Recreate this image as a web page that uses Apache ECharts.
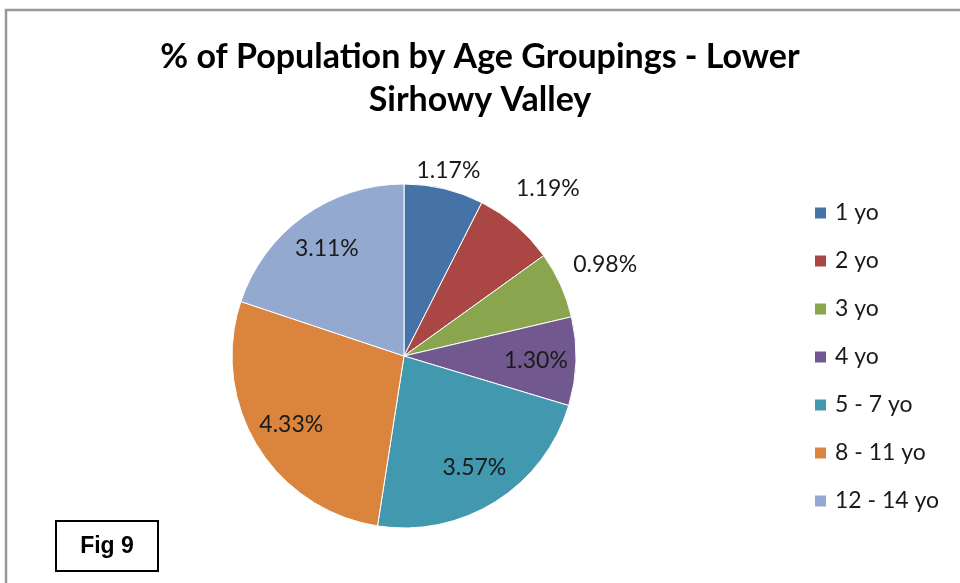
<!DOCTYPE html>
<html>
<head>
<meta charset="utf-8">
<script src="https://cdn.jsdelivr.net/npm/echarts@6/dist/echarts.min.js"></script>
<style>
html,body{margin:0;padding:0;background:#fff;}
#chart{width:960px;height:583px;}
</style>
</head>
<body>
<div id="chart"></div>
<script>
const categories = ['1 yo', '2 yo', '3 yo', '4 yo', '5 - 7 yo', '8 - 11 yo', '12 - 14 yo'];
const values = [1.17, 1.19, 0.98, 1.30, 3.57, 4.33, 3.11];
const colors = ['#4572A7', '#AA4643', '#89A54E', '#71588F', '#4198AF', '#DB843D', '#93A9CF'];

// which labels sit inside the pie / just outside (near top) / further outside
const insideIdx = [3, 4, 5, 6];
const outerNearIdx = [0];
const outerFarIdx = [1, 2];

const CX = 404, CY = 356, R = 172;
const labelFont = { fontFamily: 'Lato', fontSize: 23, color: '#1a1a1a' };

function mainData() {
  return categories.map((n, i) => ({ name: n, value: values[i], itemStyle: { color: colors[i] } }));
}
function overlayData(showIdx) {
  return categories.map((n, i) => ({
    name: n, value: values[i],
    label: { show: showIdx.indexOf(i) >= 0 }
  }));
}
function overlay(radius, showIdx) {
  return {
    type: 'pie', silent: true, center: [CX, CY], radius: radius,
    avoidLabelOverlap: false, legendHoverLink: false,
    itemStyle: { color: 'rgba(0,0,0,0)', borderWidth: 0 },
    label: Object.assign({ position: 'inside', formatter: p => p.value.toFixed(2) + '%' }, labelFont),
    labelLine: { show: false },
    emphasis: { disabled: true },
    data: overlayData(showIdx)
  };
}

const chart = echarts.init(document.getElementById('chart'));
chart.setOption({
  animation: false,
  backgroundColor: '#fff',
  title: {
    text: '% of Population by Age Groupings - Lower\nSirhowy Valley',
    left: 'center', top: 36, padding: [0, 0, 0, 16],
    textStyle: { fontFamily: 'Lato', fontWeight: 'bold', fontSize: 34, lineHeight: 43, color: '#000' }
  },
  legend: {
    orient: 'vertical', left: 808, top: 196,
    itemWidth: 13, itemHeight: 13, itemGap: 24,
    icon: 'rect',
    data: categories,
    textStyle: { fontFamily: 'Lato', fontSize: 23, lineHeight: 24, color: '#1a1a1a', padding: [0, 0, 0, 3] }
  },
  graphic: [
    { type: 'rect', shape: { x: 6, y: 10, width: 1000, height: 1000 }, style: { fill: 'none', stroke: '#999', lineWidth: 2.5 }, silent: true, z: -1 },
    { type: 'rect', shape: { x: 56, y: 521, width: 102, height: 50 }, style: { fill: '#fff', stroke: '#000', lineWidth: 2 }, silent: true },
    { type: 'text', x: 107, y: 547, style: { text: 'Fig 9', fontFamily: 'Liberation Sans', fontWeight: 'bold', fontSize: 23, fill: '#000', align: 'center', verticalAlign: 'middle' }, silent: true }
  ],
  series: [
    {
      type: 'pie', center: [CX, CY], radius: [0, R],
      startAngle: 90, clockwise: true,
      label: { show: false }, labelLine: { show: false },
      itemStyle: { borderColor: '#fff', borderWidth: 1 },
      emphasis: { scale: false },
      data: mainData()
    },
    overlay([R / 2, R], insideIdx),
    overlay([R + 6, R + 26], outerNearIdx),
    overlay([R + 36, R + 56], outerFarIdx)
  ]
});
</script>
</body>
</html>
